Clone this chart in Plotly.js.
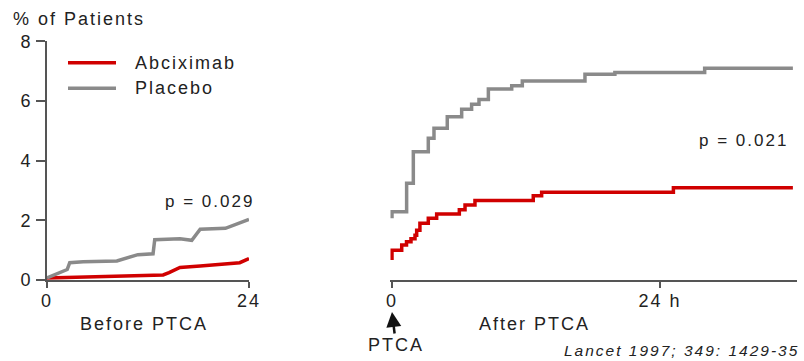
<!DOCTYPE html>
<html>
<head>
<meta charset="utf-8">
<script src="https://cdn.plot.ly/plotly-3.0.1.min.js"></script>
<style>
html,body{margin:0;padding:0;background:#fff;}
#chart{width:804px;height:361px;}
svg text{letter-spacing:2px;}
</style>
</head>
<body>
<div id="chart"></div>
<script>
// ---- data ----
const seriesNames = ['Abciximab', 'Placebo'];

// Before PTCA (hours before), cumulative % of patients
const beforeAbcTime = [0, 4.7, 11, 13.8, 14.5, 15.8, 18.2, 22.0, 22.9, 24];
const beforeAbcValue = [0.07, 0.10, 0.13, 0.17, 0.25, 0.42, 0.47, 0.57, 0.58, 0.72];
const beforePlaTime = [0, 2.4, 2.7, 4.3, 8.3, 10.8, 12.6, 12.8, 15.8, 17.2, 18.2, 21.2, 24];
const beforePlaValue = [0.07, 0.35, 0.58, 0.61, 0.64, 0.85, 0.88, 1.35, 1.38, 1.33, 1.70, 1.73, 2.03];

// After PTCA (hours after), cumulative % of patients (step curves)
const afterAbcTime = [0, 0, 0.87, 1.3, 1.7, 2.06, 2.21, 2.5, 3.25, 4.0, 6.03, 6.54, 7.43, 12.65, 13.4, 25.2, 35.9];
const afterAbcValue = [0.67, 1.0, 1.17, 1.28, 1.38, 1.50, 1.67, 1.90, 2.07, 2.21, 2.35, 2.51, 2.66, 2.82, 2.94, 3.09, 3.09];
const afterPlaTime = [0, 0, 1.31, 1.91, 3.25, 3.76, 4.95, 6.24, 7.13, 7.79, 8.63, 10.72, 11.67, 17.28, 19.96, 28.0, 35.9];
const afterPlaValue = [2.07, 2.29, 3.24, 4.30, 4.75, 5.08, 5.47, 5.72, 5.89, 6.05, 6.40, 6.51, 6.67, 6.89, 6.95, 7.09, 7.09];

const yTickVals = [0, 2, 4, 6, 8];
const beforeTickVals = [0, 24];
const beforeTickText = ['0', '24'];
const afterTickVals = [0, 24];
const afterTickText = ['0', '24 h'];
const pValues = ['p = 0.029', 'p = 0.021'];

// ---- styling / layout ----
const W = 804, H = 361;
const px = x => x / W;
const py = y => 1 - y / H;
const RED = '#d00000', GRAY = '#8a8a8a', AXIS = '#555555', TXT = '#222222';
const FONT = 'Liberation Sans, Arial, Helvetica, sans-serif';

const traces = [
  {x: beforeAbcTime, y: beforeAbcValue, xaxis: 'x', yaxis: 'y', mode: 'lines',
   name: seriesNames[0], line: {color: RED, width: 3.5}, showlegend: false},
  {x: beforePlaTime, y: beforePlaValue, xaxis: 'x', yaxis: 'y', mode: 'lines',
   name: seriesNames[1], line: {color: GRAY, width: 3.5}, showlegend: false},
  {x: afterAbcTime, y: afterAbcValue, xaxis: 'x2', yaxis: 'y', mode: 'lines',
   name: seriesNames[0], line: {color: RED, width: 3.5, shape: 'hv'}, showlegend: false},
  {x: afterPlaTime, y: afterPlaValue, xaxis: 'x2', yaxis: 'y', mode: 'lines',
   name: seriesNames[1], line: {color: GRAY, width: 3.5, shape: 'hv'}, showlegend: false}
];

const hrPx = (660 - 392) / 24;
const x2Start = -0.15;
const x2End = (797 - 392) / hrPx;
const axisCommon = {
  showgrid: false, zeroline: false, showline: true, linecolor: AXIS, linewidth: 2,
  ticks: 'outside', tickcolor: AXIS, tickwidth: 2, fixedrange: true,
  tickfont: {family: FONT, size: 18, color: TXT}
};

const layout = {
  width: W, height: H, autosize: false,
  margin: {l: 0, r: 0, t: 0, b: 0, pad: 0},
  paper_bgcolor: '#ffffff', plot_bgcolor: 'rgba(0,0,0,0)',
  showlegend: false,
  font: {family: FONT, size: 18, color: TXT},
  yaxis: Object.assign({}, axisCommon, {
    domain: [py(280), py(41.2)], range: [0, 8], anchor: 'x',
    tickvals: yTickVals, ticklen: 9, ticklabelstandoff: 0
  }),
  xaxis: Object.assign({}, axisCommon, {
    domain: [px(47), px(249)], range: [0, 24], anchor: 'y',
    tickvals: beforeTickVals, ticktext: beforeTickText, ticklen: 6, ticklabelstandoff: -3
  }),
  xaxis2: Object.assign({}, axisCommon, {
    domain: [px(392 + x2Start * hrPx), px(797)], range: [x2Start, x2End], anchor: 'y',
    tickvals: afterTickVals, ticktext: afterTickText, ticklen: 6, ticklabelstandoff: -3
  }),
  shapes: [
    {type: 'line', xref: 'paper', yref: 'paper', x0: px(68), x1: px(116), y0: py(62.7), y1: py(62.7),
     line: {color: RED, width: 3.5}},
    {type: 'line', xref: 'paper', yref: 'paper', x0: px(68), x1: px(116), y0: py(88.3), y1: py(88.3),
     line: {color: GRAY, width: 3.5}}
  ],
  annotations: [
    {text: '% of Patients', xref: 'paper', yref: 'paper', x: px(11), y: py(19),
     xanchor: 'left', yanchor: 'middle', showarrow: false, font: {size: 18}},
    {text: seriesNames[0], xref: 'paper', yref: 'paper', x: px(133), y: py(63),
     xanchor: 'left', yanchor: 'middle', showarrow: false, font: {size: 18}},
    {text: seriesNames[1], xref: 'paper', yref: 'paper', x: px(133), y: py(88),
     xanchor: 'left', yanchor: 'middle', showarrow: false, font: {size: 18}},
    {text: pValues[0], xref: 'paper', yref: 'paper', x: px(209), y: py(201),
     xanchor: 'center', yanchor: 'middle', showarrow: false, font: {size: 17}},
    {text: pValues[1], xref: 'paper', yref: 'paper', x: px(743), y: py(140),
     xanchor: 'center', yanchor: 'middle', showarrow: false, font: {size: 17}},
    {text: 'Before PTCA', xref: 'paper', yref: 'paper', x: px(144), y: py(324),
     xanchor: 'center', yanchor: 'middle', showarrow: false, font: {size: 18}},
    {text: 'After PTCA', xref: 'paper', yref: 'paper', x: px(534), y: py(324),
     xanchor: 'center', yanchor: 'middle', showarrow: false, font: {size: 18}},
    {text: 'PTCA', xref: 'x2', yref: 'paper', x: 0, y: py(312),
     showarrow: true, ax: 4, ay: 33, arrowhead: 2, arrowsize: 1.2, arrowwidth: 2.5,
     arrowcolor: '#111111', standoff: 0, startstandoff: 0, font: {size: 18}},
    {text: 'Lancet 1997; 349: 1429-35', xref: 'paper', yref: 'paper', x: px(801), y: py(350),
     xanchor: 'right', yanchor: 'middle', showarrow: false,
     font: {size: 15.5, style: 'italic'}}
  ]
};

Plotly.newPlot('chart', traces, layout, {staticPlot: true, displayModeBar: false});
</script>
</body>
</html>
